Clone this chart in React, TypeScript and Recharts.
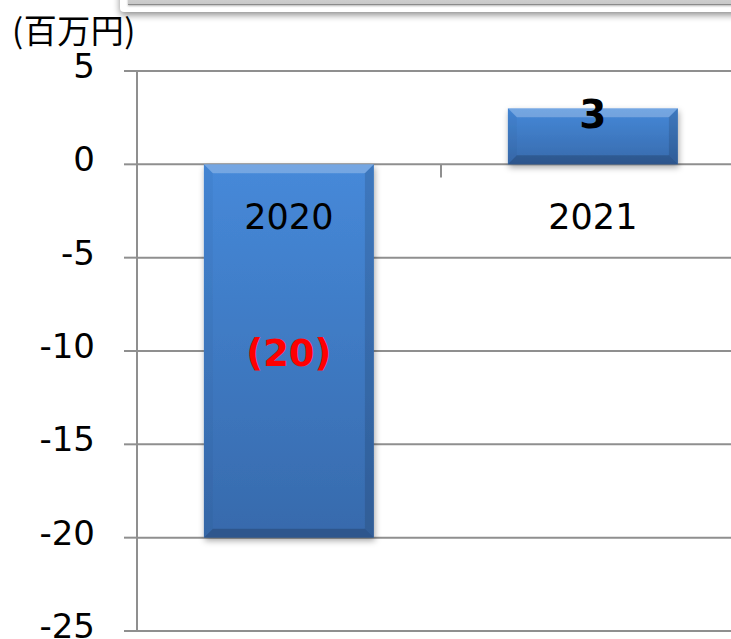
import { Bar, BarChart, CartesianGrid, LabelList, ReferenceLine, XAxis, YAxis } from 'recharts';

const years = ['2020', '2021'];
const profit = [-20, 3];
const yTicks = [-25, -20, -15, -10, -5, 0, 5];
const unitLabel = '(百万円)';

const data = years.map((year, i) => ({ year, profit: profit[i] }));

const numFont = '"DejaVu Sans", Verdana, sans-serif';
const gridGray = '#8f8f8f';

function BevelBar(props: any) {
  const { x, y, width, height } = props;
  const top = Math.min(y, y + height);
  const h = Math.abs(height);
  const L = x;
  const R = x + width;
  const T = top;
  const B = top + h;
  const s = Math.min(9, h / 3, width / 3);
  return (
    <g filter="url(#barShadow)">
      <rect x={L} y={T} width={width} height={h} fill="url(#barFill)" />
      <polygon points={`${L},${T} ${R},${T} ${R - s},${T + s} ${L + s},${T + s}`} fill="#ffffff" fillOpacity={0.25} />
      <polygon points={`${L},${T} ${L + s},${T + s} ${L + s},${B - s} ${L},${B}`} fill="#000" fillOpacity={0.03} />
      <polygon points={`${R},${T} ${R},${B} ${R - s},${B - s} ${R - s},${T + s}`} fill="#000" fillOpacity={0.12} />
      <polygon points={`${L},${B} ${L + s},${B - s} ${R - s},${B - s} ${R},${B}`} fill="#000" fillOpacity={0.18} />
    </g>
  );
}

function zeroOf(y: number, height: number, value: number) {
  return value >= 0 ? Math.max(y, y + height) : Math.min(y, y + height);
}

function ValueLabel(props: any) {
  const { x, y, width, height, value } = props;
  const top = Math.min(y, y + height);
  const h = Math.abs(height);
  if (value < 0) {
    return (
      <text
        x={x + width / 2}
        y={top + h / 2 + 2}
        textAnchor="middle"
        dominantBaseline="central"
        fontFamily={numFont}
        fontWeight="bold"
        fontSize={37}
        fill="#ff0000"
      >
        {`(${Math.abs(value)})`}
      </text>
    );
  }
  return (
    <text
      x={x + width / 2}
      y={top + 6}
      textAnchor="middle"
      dominantBaseline="central"
      fontFamily={numFont}
      fontWeight="bold"
      fontSize={39}
      fill="#000"
    >
      {value}
    </text>
  );
}

function YearLabel(props: any) {
  const { x, y, width, height, index } = props;
  const zero = zeroOf(y, height, profit[index]);
  return (
    <text
      x={x + width / 2}
      y={zero + 53}
      textAnchor="middle"
      dominantBaseline="central"
      fontFamily={numFont}
      fontSize={35}
      fill="#000"
    >
      {years[index]}
    </text>
  );
}

function YTick(props: any) {
  const { x, y, payload } = props;
  return (
    <text x={x} y={y - 5} textAnchor="end" dominantBaseline="central" fontFamily={numFont} fontSize={34} fill="#000">
      {payload.value}
    </text>
  );
}

export default function App() {
  return (
    <div
      style={{
        position: 'fixed',
        left: 0,
        top: 0,
        width: 731,
        height: 639,
        overflow: 'hidden',
        background: '#fff',
      }}
    >
      <div
        style={{
          position: 'absolute',
          left: 120,
          top: -30,
          width: 660,
          height: 42,
          background: '#fff',
          borderRadius: 4,
          boxShadow: '0 3px 7px rgba(0,0,0,0.45)',
        }}
      >
        <div
          style={{
            position: 'absolute',
            left: 8,
            top: 0,
            right: 0,
            height: 34,
            background: 'linear-gradient(#f0f0f0, #c8c8c8)',
            borderBottom: '1px solid #8a8a8a',
            boxShadow: '0 1px 2px rgba(0,0,0,0.3)',
          }}
        />
      </div>
      <div
        style={{
          position: 'absolute',
          left: 12,
          top: 13,
          fontFamily: '"Noto Sans CJK JP", sans-serif',
          fontSize: 33,
          lineHeight: '32px',
          color: '#000',
          letterSpacing: 0.5,
        }}
      >
        {unitLabel}
      </div>
      <BarChart
        width={745}
        height={639}
        data={data}
        margin={{ top: 71, right: 0, bottom: 8, left: 0 }}
        barCategoryGap="22%"
      >
        <defs>
          <linearGradient id="barFill" x1="0" y1="0" x2="0" y2="1">
            <stop offset="0%" stopColor="#4689d9" />
            <stop offset="100%" stopColor="#376aac" />
          </linearGradient>
          <filter id="barShadow" x="-10%" y="-10%" width="130%" height="130%">
            <feDropShadow dx="1" dy="3" stdDeviation="3" floodColor="#000" floodOpacity="0.35" />
          </filter>
        </defs>
        <CartesianGrid vertical={false} stroke={gridGray} strokeWidth={2} />
        <XAxis dataKey="year" hide />
        <YAxis
          domain={[-25, 5]}
          ticks={yTicks}
          interval={0}
          width={137}
          tickSize={13}
          tickMargin={29}
          axisLine={{ stroke: gridGray, strokeWidth: 2 }}
          tickLine={{ stroke: gridGray, strokeWidth: 2 }}
          tick={<YTick />}
        />
        <ReferenceLine
          segment={[
            { x: '2021', y: 0 },
            { x: '2021', y: -0.7 },
          ]}
          position="start"
          stroke={gridGray}
          strokeWidth={2}
        />
        <Bar dataKey="profit" shape={<BevelBar />} isAnimationActive={false}>
          <LabelList dataKey="profit" content={<ValueLabel />} />
          <LabelList dataKey="year" content={<YearLabel />} />
        </Bar>
      </BarChart>
    </div>
  );
}
